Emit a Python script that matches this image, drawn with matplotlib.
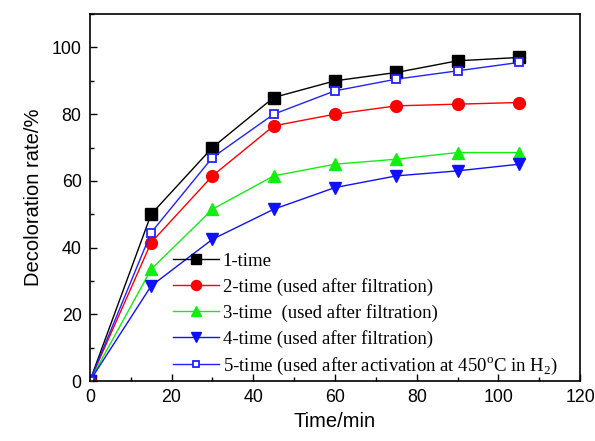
import matplotlib
matplotlib.use("Agg")
import matplotlib.pyplot as plt
from matplotlib.ticker import MultipleLocator

time_min = [0, 15, 30, 45, 60, 75, 90, 105]
run1 = [0, 50, 70, 85, 90, 92.5, 96, 97]
run2 = [0, 41.5, 61.5, 76.5, 80, 82.5, 83, 83.5]
run3 = [0, 33.5, 51.5, 61.5, 65, 66.5, 68.5, 68.5]
run4 = [0, 28.5, 42.5, 51.5, 58, 61.5, 63, 65]
run5 = [0, 44.5, 67, 80, 87, 90.5, 93, 95.5]

labels = [
    "1-time",
    "2-time (used after filtration)",
    "3-time  (used after filtration)",
    "4-time (used after filtration)",
    "5-time (used after activation at 450$^{\\mathrm{o}}$C in H$_2$)",
]

plt.rcParams["mathtext.fontset"] = "custom"
plt.rcParams["mathtext.rm"] = "Liberation Serif"

fig = plt.figure(figsize=(5.95, 4.41), dpi=100)
ax = fig.add_axes([0.151, 0.136, 0.824, 0.832])

ax.plot(time_min, run1, color="black", marker="s", ms=8, lw=1.0, label=labels[0])
ax.plot(time_min, run2, color="red", marker="o", ms=8.5, lw=1.0, label=labels[1])
ax.plot(time_min, run3, color="#11ee11", marker="^", ms=9, lw=1.0, label=labels[2])
ax.plot(time_min, run4, color="#1010ff", marker="v", ms=9, lw=1.0, label=labels[3])
ax.plot(time_min, run5, color="#2222ff", marker="s", ms=5.5, mfc="white",
        mew=1.3, lw=1.0, label=labels[4])

ax.set_xlim(0, 120)
ax.set_ylim(0, 110)
ax.xaxis.set_major_locator(MultipleLocator(20))
ax.xaxis.set_minor_locator(MultipleLocator(10))
ax.yaxis.set_major_locator(MultipleLocator(20))
ax.yaxis.set_minor_locator(MultipleLocator(10))
ax.tick_params(which="both", direction="in", top=False, right=False)
ax.tick_params(which="major", length=5, width=1, labelsize=12.8, pad=6)
ax.tick_params(which="minor", length=3, width=1)
for lab in ax.get_xticklabels() + ax.get_yticklabels():
    lab.set_fontfamily("Liberation Sans")
for sp in ax.spines.values():
    sp.set_linewidth(1.2)

ax.set_xlabel("Time/min", fontsize=14.5, family="Liberation Sans", labelpad=4)
ax.set_ylabel("Decoloration rate/%", fontsize=14.5, family="Liberation Sans", labelpad=6)

leg = ax.legend(loc="lower left", bbox_to_anchor=(0.135, -0.035), frameon=False,
                prop={"family": "Liberation Serif", "size": 13.5},
                handlelength=2.45, handletextpad=0.2, labelspacing=0.43,
                markerscale=0.85)

fig.savefig("out.png", dpi=100)
